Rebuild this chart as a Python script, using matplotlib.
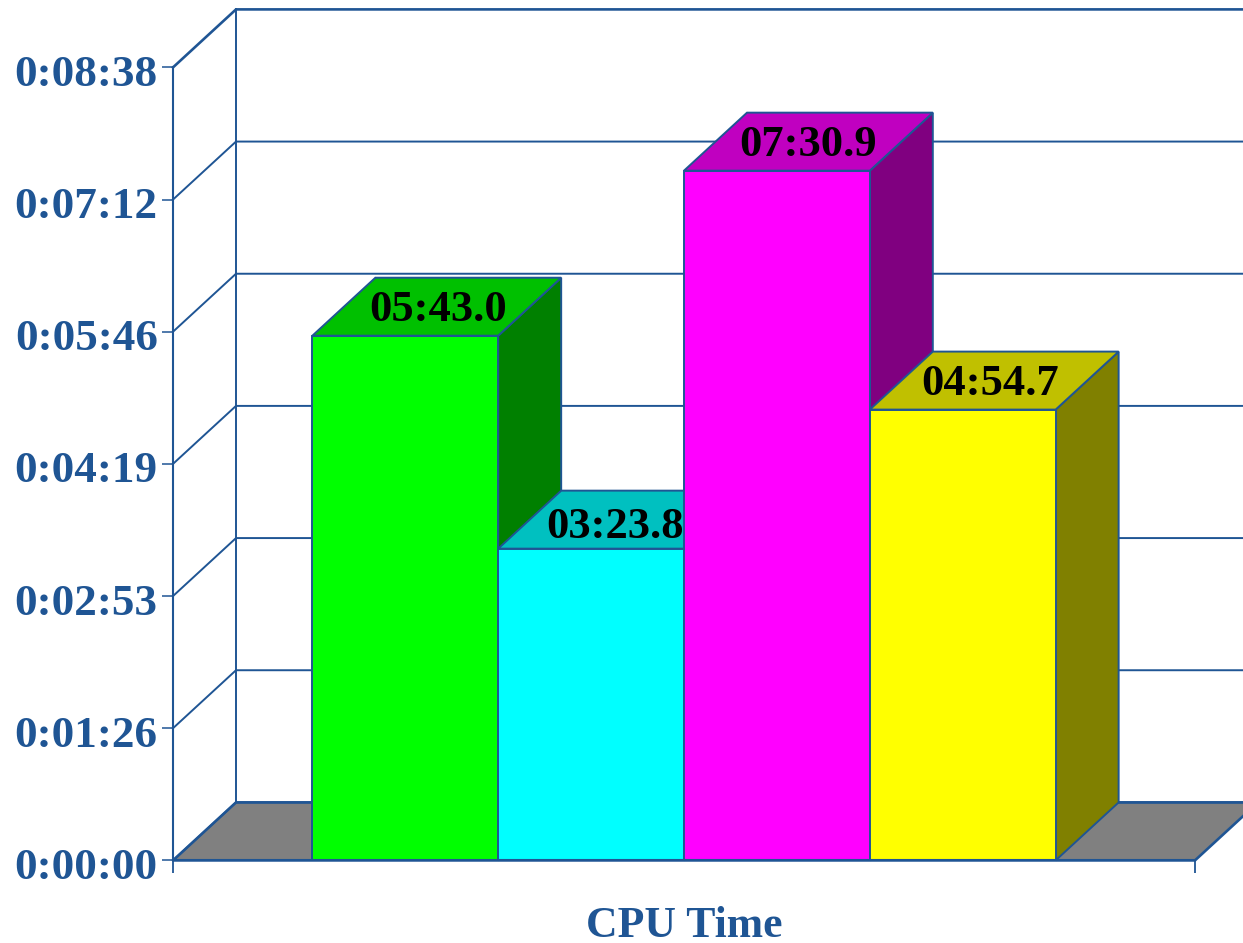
#!/usr/bin/env python3
"""Pseudo-3D bar chart of CPU time, depth faked with offset polygons."""
import matplotlib
matplotlib.use("Agg")
import matplotlib.pyplot as plt
from matplotlib.transforms import ScaledTranslation

plt.rcParams["font.family"] = ["Liberation Serif", "DejaVu Serif"]
plt.rcParams["font.weight"] = "bold"

labels = ["05:43.0", "03:23.8", "07:30.9", "04:54.7"]
seconds = [343.0, 203.8, 450.9, 294.7]
front_cols = ["#00ff00", "#00ffff", "#ff00ff", "#ffff00"]
top_cols = ["#00c000", "#00c0c0", "#c000c0", "#c0c000"]
side_cols = ["#008000", "#008080", "#800080", "#808000"]
tick_vals = [0, 86.4, 172.8, 259.2, 345.6, 432.0, 518.4]
tick_labs = ["0:00:00", "0:01:26", "0:02:53", "0:04:19", "0:05:46", "0:07:12", "0:08:38"]
xlabel = "CPU Time"

LINE = "#1f5594"
W, H = 1243, 943
X0, X1, Y0, Y1 = 173, 1195, 860.4, 67.4  # front plane in pixels
XMIN, XMAX = -0.75, 4.75
DX = 63 / ((X1 - X0) / (XMAX - XMIN))    # depth in data units
DY = 58 / ((Y0 - Y1) / tick_vals[-1])

def P(x, y, d=0):
    return (x + d * DX, y + d * DY)

fig = plt.figure(figsize=(W / 100, H / 100), dpi=100)
ax = fig.add_axes([X0 / W, 1 - Y0 / H, (X1 - X0) / W, (Y0 - Y1) / H])
ax.set_xlim(XMIN, XMAX)
ax.set_ylim(0, tick_vals[-1])
ax.patch.set_visible(False)
for s in ["top", "right"]:
    ax.spines[s].set_visible(False)
for s in ["left", "bottom"]:
    ax.spines[s].set_color(LINE)
    ax.spines[s].set_linewidth(1.5)
    ax.spines[s].set_zorder(12 if s == "bottom" else 1)

# floor and walls
ax.fill(*zip(P(XMIN, 0), P(XMAX, 0), P(XMAX, 0, 1), P(XMIN, 0, 1)),
        fc="#808080", ec=LINE, lw=1.9, clip_on=False, zorder=1)
for v in tick_vals:
    lw = 1.9 if v == tick_vals[-1] else 1.4
    ax.plot(*zip(P(XMIN, v), P(XMIN, v, 1), P(XMAX, v, 1)), color=LINE, lw=lw, clip_on=False, zorder=1)
ax.plot(*zip(P(XMIN, 0, 1), P(XMIN, tick_vals[-1], 1)), color=LINE, lw=1.4, clip_on=False, zorder=1)

# bars, left to right so that later ones cover the side faces
nudge = [(1, -3), (-8, -7), (0, -3), (-4, -3)]
for i, v in enumerate(seconds):
    z = 2 + i
    kw = dict(ec=LINE, lw=1.4, clip_on=False, zorder=z)
    ax.fill(*zip(P(i + 1, 0), P(i + 1, 0, 1), P(i + 1, v, 1), P(i + 1, v)), fc=side_cols[i], **kw)
    ax.fill(*zip(P(i, v), P(i + 1, v), P(i + 1, v, 1), P(i, v, 1)), fc=top_cols[i], **kw)
    ax.fill(*zip(P(i, 0), P(i + 1, 0), P(i + 1, v), P(i, v)), fc=front_cols[i], **kw)
    tx, ty = P(i + 0.5, v, 0.5)
    ax.annotate(labels[i], (tx, ty), xytext=nudge[i], textcoords="offset pixels",
                ha="center", va="center", fontsize=32, color="black", zorder=10, annotation_clip=False)

ax.set_yticks(tick_vals)
ax.set_yticklabels(tick_labs, fontsize=32.5, color=LINE)
ax.set_xticks([XMIN, XMAX])
ax.set_xticklabels([])
ax.tick_params(axis="y", length=8, width=1.1, color=LINE, pad=3)
ax.tick_params(axis="x", length=9.7, width=1.3, color=LINE)
shift = ScaledTranslation(0, -3 / 100, fig.dpi_scale_trans)
for t in ax.get_yticklabels():
    t.set_transform(t.get_transform() + shift)
ax.text(0.5 * (XMIN + XMAX) + 0.0, -43, xlabel, ha="center", va="center", fontsize=31.5, color=LINE, clip_on=False)

fig.savefig("out.png", dpi=100)
